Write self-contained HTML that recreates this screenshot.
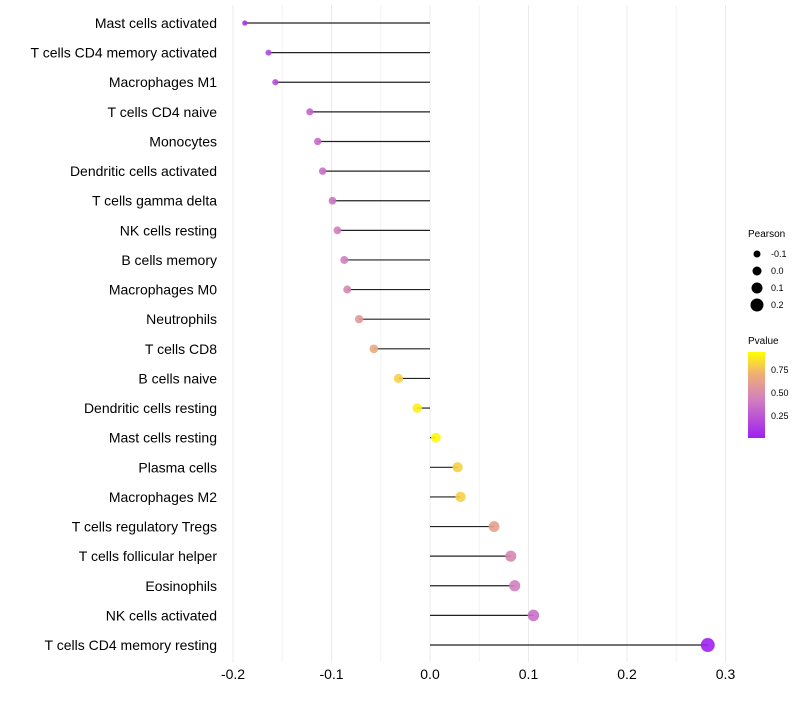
<!DOCTYPE html>
<html><head><meta charset="utf-8"><style>
body{margin:0;background:#fff;font-family:"Liberation Sans",Arial,sans-serif}
</style></head><body>
<svg id="chart" width="800" height="700" xmlns="http://www.w3.org/2000/svg">
<defs><linearGradient id="pg" x1="0" y1="1" x2="0" y2="0">
<stop offset="0" stop-color="#A020F0"/><stop offset="0.45" stop-color="#D27FBF"/><stop offset="0.75" stop-color="#F0B072"/><stop offset="1" stop-color="#FFFF00"/></linearGradient></defs>
<g id="grid"></g><g id="marks"></g><g id="labels"></g>
<g font-size="9">
<text x="748" y="237" font-size="10">Pearson</text>
<circle cx="757" cy="254" r="3.5"/><text x="771" y="257">-0.1</text>
<circle cx="757" cy="271" r="4.5"/><text x="771" y="274">0.0</text>
<circle cx="757" cy="288" r="5.5"/><text x="771" y="291">0.1</text>
<circle cx="757" cy="305" r="6.5"/><text x="771" y="308">0.2</text>
<text x="748" y="344" font-size="10">Pvalue</text>
<rect x="748" y="352" width="17" height="86" fill="url(#pg)"/>
<text x="771" y="373">0.75</text><text x="771" y="396">0.50</text><text x="771" y="419">0.25</text>
</g>
</svg>
<script>
const cells=["Mast cells activated","T cells CD4 memory activated","Macrophages M1","T cells CD4 naive","Monocytes","Dendritic cells activated","T cells gamma delta","NK cells resting","B cells memory","Macrophages M0","Neutrophils","T cells CD8","B cells naive","Dendritic cells resting","Mast cells resting","Plasma cells","Macrophages M2","T cells regulatory  Tregs ","T cells follicular helper","Eosinophils","NK cells activated","T cells CD4 memory resting"];
const pearson=[-0.188,-0.164,-0.157,-0.122,-0.114,-0.109,-0.099,-0.094,-0.087,-0.084,-0.072,-0.057,-0.032,-0.013,0.006,0.028,0.031,0.065,0.082,0.086,0.105,0.282];
const pvalue=[0.08,0.2,0.2,0.32,0.35,0.37,0.4,0.45,0.45,0.5,0.6,0.7,0.85,0.95,0.98,0.85,0.85,0.65,0.5,0.45,0.38,0.002];
const ticks=[-0.2,-0.1,0.0,0.1,0.2,0.3];
const tickLabels=["-0.2","-0.1","0.0","0.1","0.2","0.3"];
const NS="http://www.w3.org/2000/svg";
const x=v=>430+v*985;
const y=i=>23+i*29.62;
const stops=[[0,[160,32,240]],[0.45,[210,127,191]],[0.75,[240,176,114]],[1,[255,255,0]]];
function col(p){for(let k=1;k<stops.length;k++){if(p<=stops[k][0]){const a=stops[k-1],b=stops[k],t=(p-a[0])/(b[0]-a[0]);return "rgb("+a[1].map((c,j)=>Math.round(c+(b[1][j]-c)*t)).join(",")+")";}}return "rgb(255,255,0)";}
function mk(t,at,parent){const e=document.createElementNS(NS,t);for(const k in at)e.setAttribute(k,at[k]);document.getElementById(parent).appendChild(e);return e;}
for(let v=-0.2;v<=0.3001;v+=0.05){const major=Math.abs(Math.round(v*20)%2)===0;const g=mk("line",{x1:x(v),x2:x(v),y1:5,y2:662,stroke:major?"#ebebeb":"#f3f3f3","stroke-width":1},"grid");

}
ticks.forEach((t,i)=>{const e=mk("text",{x:x(t),y:679,"text-anchor":"middle","font-size":"14"},"labels");e.textContent=tickLabels[i];

});
cells.forEach((c,i)=>{
const l=mk("line",{x1:x(0),x2:x(pearson[i]),y1:y(i),y2:y(i),stroke:"#222","stroke-width":1.2},"marks");


const r=Math.sqrt(Math.max(2.5,23.7+89.7*pearson[i]));
const d=mk("circle",{cx:x(pearson[i]),cy:y(i),r:r,fill:col(pvalue[i]),"fill-opacity":0.9},"marks");


const t=mk("text",{x:217,y:y(i)+5,"text-anchor":"end","font-size":"14"},"labels");t.textContent=c;


});
</script>
</body></html>
